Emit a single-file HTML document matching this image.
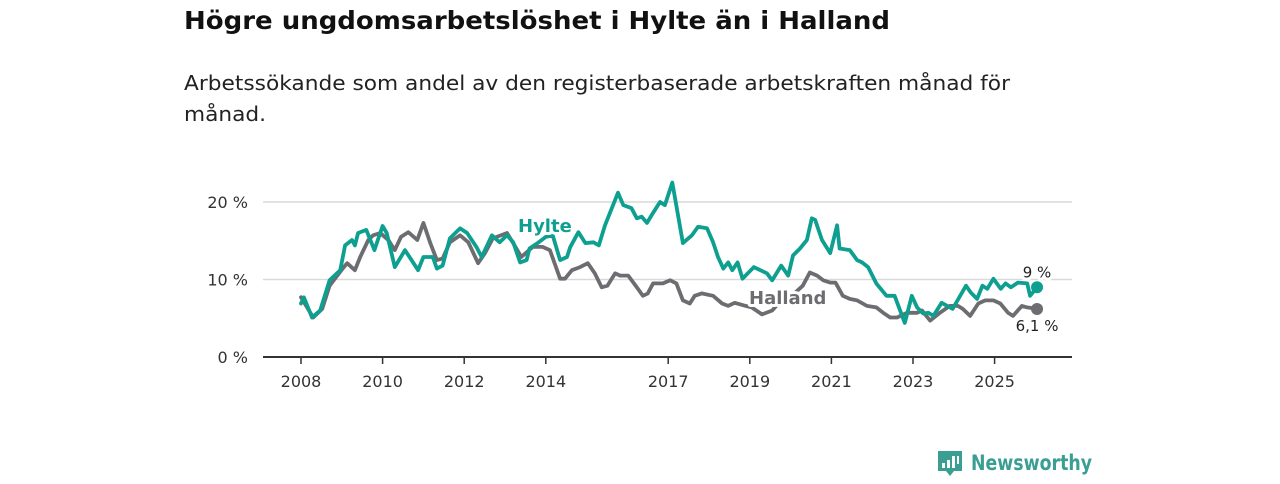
<!DOCTYPE html>
<html><head><meta charset="utf-8"><style>
html,body{margin:0;padding:0;background:#fff;}
body{width:1280px;height:480px;overflow:hidden;font-family:"DejaVu Sans","Liberation Sans",sans-serif;}
svg text{font-family:"DejaVu Sans","Liberation Sans",sans-serif;}
</style></head><body>
<svg id="chart" width="1280" height="480" viewBox="0 0 1280 480" xmlns="http://www.w3.org/2000/svg">
<text x="184" y="29" font-size="25" font-weight="bold" fill="#111" textLength="706" lengthAdjust="spacingAndGlyphs">Högre ungdomsarbetslöshet i Hylte än i Halland</text>
<text x="184" y="90" font-size="20" fill="#222" textLength="826" lengthAdjust="spacingAndGlyphs">Arbetssökande som andel av den registerbaserade arbetskraften månad för</text>
<text x="184" y="121" font-size="20" fill="#222" textLength="82" lengthAdjust="spacingAndGlyphs">månad.</text>
<g id="grid"></g>
<g id="series"></g>
<g id="labels"></g>
<g>
<path d="M938 451 h24 v20 h-8 l-4 5 l-4 -5 h-8 z" fill="#3a9e93"/>
<rect x="942" y="463" width="3" height="5" fill="#fff"/><rect x="947" y="460" width="3" height="8" fill="#fff"/><rect x="952" y="456" width="3" height="12" fill="#fff"/><rect x="957" y="456" width="2" height="8" fill="#fff"/>
<text x="971" y="470" font-size="21" font-weight="bold" fill="#3a9e93" textLength="121" lengthAdjust="spacingAndGlyphs">Newsworthy</text>
</g>
</svg>
<script>
const yearTicks = [2008, 2010, 2012, 2014, 2017, 2019, 2021, 2023, 2025];
const yTicks = [0, 10, 20];
const hylteDates = [2008.0,2008.07,2008.27,2008.47,2008.7,2008.96,2009.08,2009.25,2009.32,2009.4,2009.6,2009.8,2010.0,2010.1,2010.3,2010.55,2010.87,2011.0,2011.23,2011.33,2011.47,2011.65,2011.9,2012.07,2012.3,2012.43,2012.68,2012.87,2013.05,2013.2,2013.37,2013.53,2013.6,2013.8,2014.0,2014.17,2014.35,2014.52,2014.6,2014.8,2014.97,2015.17,2015.3,2015.45,2015.77,2015.9,2016.1,2016.23,2016.35,2016.48,2016.63,2016.8,2016.92,2017.1,2017.36,2017.58,2017.73,2017.95,2018.1,2018.22,2018.35,2018.47,2018.57,2018.7,2018.82,2019.1,2019.42,2019.55,2019.77,2019.94,2020.06,2020.23,2020.4,2020.52,2020.6,2020.77,2020.97,2021.14,2021.2,2021.45,2021.63,2021.75,2021.9,2022.1,2022.35,2022.55,2022.8,2022.97,2023.1,2023.25,2023.38,2023.5,2023.7,2023.97,2024.3,2024.42,2024.57,2024.7,2024.82,2024.97,2025.15,2025.27,2025.4,2025.57,2025.8,2025.87,2026.04];
const hylteValues = [6.9,7.7,5.1,6.0,9.9,11.2,14.4,15.1,14.4,16.0,16.4,13.8,16.9,16.0,11.6,13.8,11.2,12.9,12.9,11.4,11.8,15.3,16.6,16.0,14.2,12.9,15.7,14.8,15.7,14.8,12.2,12.5,14.0,14.7,15.5,15.7,12.5,12.9,14.2,16.1,14.7,14.8,14.4,17.0,21.2,19.6,19.2,17.9,18.1,17.3,18.6,20.0,19.6,22.5,14.7,15.7,16.8,16.6,14.8,12.9,11.4,12.2,11.2,12.2,10.1,11.6,10.8,9.9,11.8,10.5,13.1,14.0,15.1,17.9,17.7,15.1,13.4,17.0,14.0,13.8,12.5,12.2,11.6,9.5,7.9,7.9,4.4,7.9,6.4,5.6,5.7,5.3,7.0,6.2,9.2,8.3,7.5,9.2,8.8,10.1,8.8,9.5,9.0,9.6,9.5,7.9,9.0];
const hallandDates = [2008.0,2008.3,2008.52,2008.7,2008.99,2009.13,2009.32,2009.45,2009.65,2009.77,2009.94,2010.14,2010.3,2010.45,2010.63,2010.85,2011.0,2011.17,2011.33,2011.47,2011.65,2011.9,2012.1,2012.34,2012.51,2012.7,2013.05,2013.2,2013.4,2013.68,2013.92,2014.1,2014.35,2014.47,2014.64,2014.84,2015.03,2015.2,2015.37,2015.51,2015.7,2015.82,2016.02,2016.23,2016.38,2016.5,2016.63,2016.87,2017.05,2017.2,2017.36,2017.53,2017.65,2017.82,2018.1,2018.32,2018.47,2018.63,2018.9,2019.05,2019.3,2019.55,2019.8,2020.05,2020.3,2020.47,2020.65,2020.8,2020.97,2021.1,2021.28,2021.45,2021.63,2021.87,2022.1,2022.27,2022.44,2022.61,2022.85,2023.1,2023.22,2023.42,2023.66,2023.9,2024.1,2024.22,2024.4,2024.6,2024.77,2024.97,2025.14,2025.33,2025.45,2025.67,2025.8,2026.04];
const hallandValues = [7.7,5.1,6.2,9.2,11.2,12.1,11.2,12.9,15.1,15.7,16.0,15.1,13.8,15.5,16.1,15.1,17.3,14.7,12.5,12.7,14.8,15.7,14.8,12.1,13.4,15.3,16.0,14.7,12.9,14.2,14.2,13.8,10.1,10.1,11.2,11.6,12.1,10.8,9.0,9.2,10.8,10.5,10.5,9.0,7.9,8.2,9.5,9.5,9.9,9.5,7.3,6.9,7.9,8.2,7.9,6.9,6.6,7.0,6.6,6.4,5.5,6.0,7.5,8.0,9.2,10.9,10.5,9.9,9.6,9.6,7.9,7.5,7.3,6.6,6.4,5.7,5.1,5.1,5.7,5.7,6.0,4.7,5.7,6.6,6.6,6.2,5.3,6.9,7.3,7.3,6.9,5.7,5.3,6.6,6.4,6.2];
const endLabels = ["9 %", "6,1 %"];

const NS = "http://www.w3.org/2000/svg";
const X0 = 263, X1 = 1072;
const xScale = y => 301 + (y - 2008) * 40.8;
const yScale = v => 357 - v * 7.75;
const TEAL = "#0d9f8f", GRAY = "#6d6c71";
function mk(tag, attrs, parent, text) {
  const e = document.createElementNS(NS, tag);
  for (const k in attrs) e.setAttribute(k, attrs[k]);
  if (text !== undefined) e.textContent = text;
  parent.appendChild(e);
  return e;
}
const grid = document.getElementById('grid');
yTicks.forEach(t => {
  if (t > 0) {
    const l = mk('line', {x1: X0, x2: X1, y1: yScale(t), y2: yScale(t), stroke: '#d9d9d9', 'stroke-width': 1.5}, grid);
    
    
  }
  const tx = mk('text', {x: 248, y: yScale(t) + 6, 'font-size': 16, fill: '#333', 'text-anchor': 'end'}, grid, t + ' %');
  
  
});
const ax = mk('line', {x1: X0, x2: X1, y1: yScale(0), y2: yScale(0), stroke: '#333', 'stroke-width': 2}, grid);


yearTicks.forEach(y => {
  const tk = mk('line', {x1: xScale(y), x2: xScale(y), y1: yScale(0), y2: yScale(0) + 7, stroke: '#333', 'stroke-width': 1.5}, grid);
  
  
  const tl = mk('text', {x: xScale(y), y: 387, 'font-size': 16, fill: '#333', 'text-anchor': 'middle'}, grid, String(y));
  
  
});
const ser = document.getElementById('series');
function line(dates, vals, color, name) {
  const d = dates.map((t, i) => (i ? 'L' : 'M') + xScale(t).toFixed(1) + ' ' + yScale(vals[i]).toFixed(1)).join(' ');
  const p = mk('path', {d: d, fill: 'none', stroke: color, 'stroke-width': 3.8, 'stroke-linejoin': 'round', 'stroke-linecap': 'round'}, ser);
  
  
  const n = dates.length - 1;
  const c = mk('circle', {cx: xScale(dates[n]), cy: yScale(vals[n]), r: 6, fill: color}, ser);
  
  
}
line(hallandDates, hallandValues, GRAY, 'halland');
line(hylteDates, hylteValues, TEAL, 'hylte');
const lab = document.getElementById('labels');
const halo = {stroke: '#fff', 'stroke-width': 6, 'paint-order': 'stroke', 'stroke-linejoin': 'round'};
const l1 = mk('text', Object.assign({x: 518, y: 232, 'font-size': 18, 'font-weight': 'bold', fill: TEAL}, halo), lab, 'Hylte');


const l2 = mk('text', Object.assign({x: 749, y: 304, 'font-size': 18, 'font-weight': 'bold', fill: GRAY}, halo), lab, 'Halland');


const nH = hylteDates.length - 1, nG = hallandDates.length - 1;
const v1 = mk('text', Object.assign({x: xScale(hylteDates[nH]), y: yScale(hylteValues[nH]) - 10, 'font-size': 15, fill: '#222', 'text-anchor': 'middle'}, halo), lab, endLabels[0]);


const v2 = mk('text', Object.assign({x: xScale(hallandDates[nG]), y: yScale(hallandValues[nG]) + 22, 'font-size': 15, fill: '#222', 'text-anchor': 'middle'}, halo), lab, endLabels[1]);


</script>
</body></html>
